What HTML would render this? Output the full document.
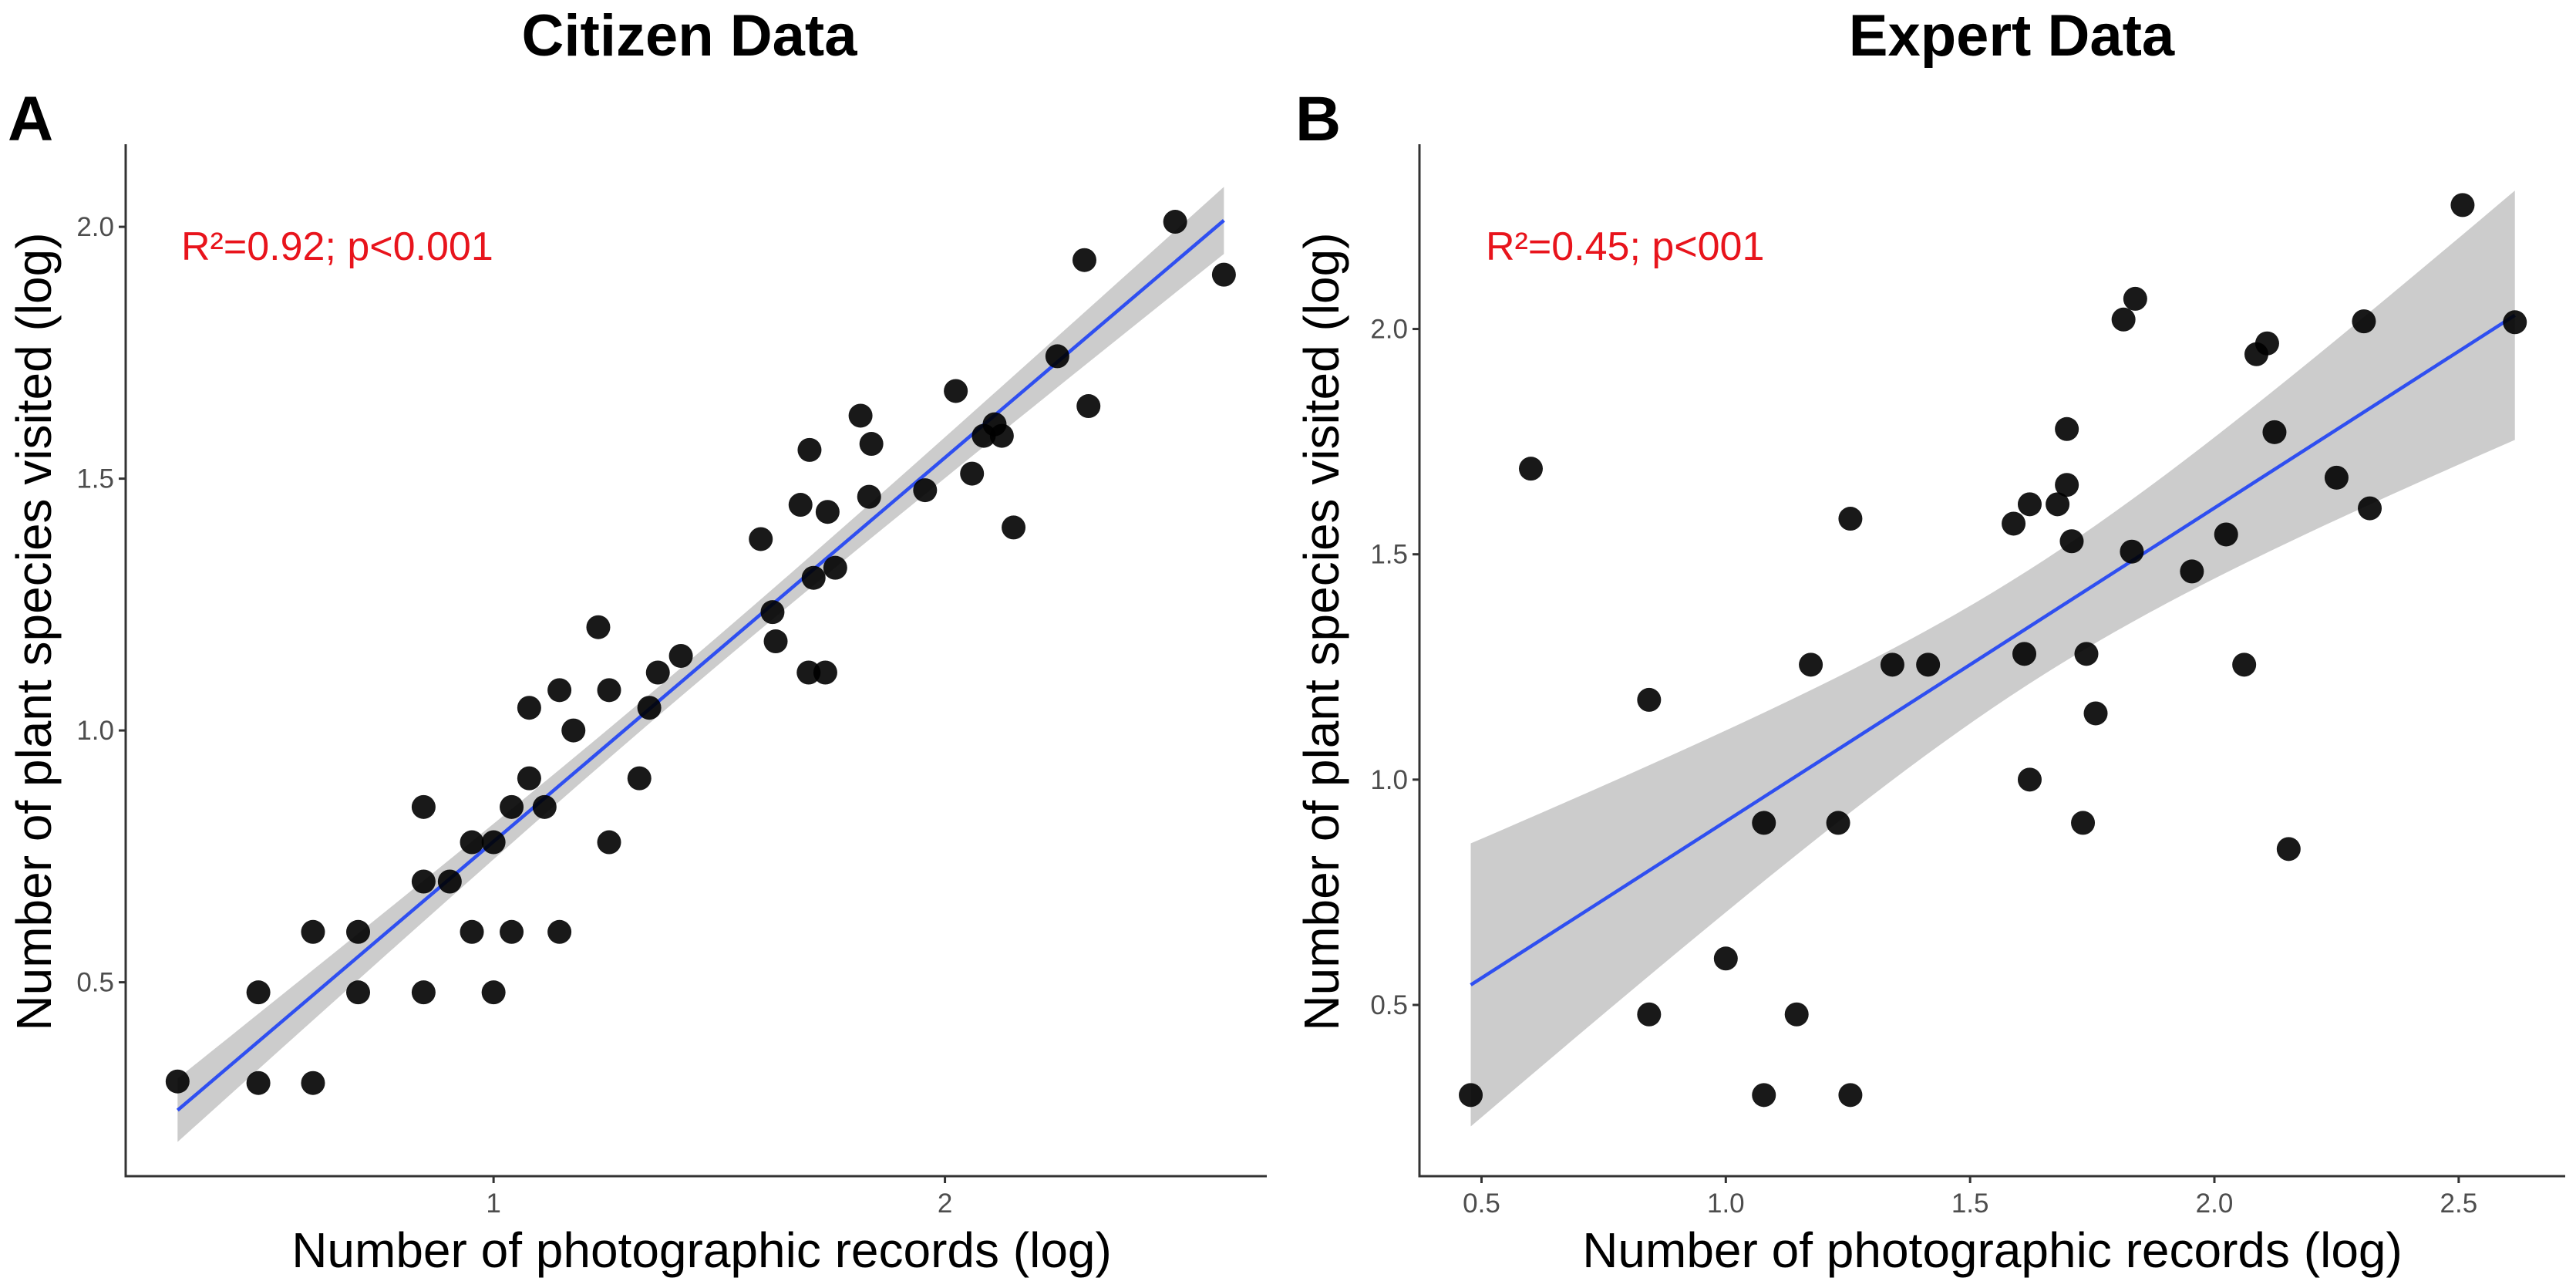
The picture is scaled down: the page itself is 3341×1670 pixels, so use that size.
<!DOCTYPE html>
<html><head><meta charset="utf-8"><style>
html,body{margin:0;padding:0;background:#fff;}
svg{display:block;font-family:"Liberation Sans",Arial,sans-serif;}
</style></head><body>
<svg id="chart" width="3341" height="1670" viewBox="0 0 3341 1670" xmlns="http://www.w3.org/2000/svg">
<text x="894" y="72" font-size="76" font-weight="bold" text-anchor="middle">Citizen Data</text>
<text x="2609" y="72" font-size="76" font-weight="bold" text-anchor="middle">Expert Data</text>
<text x="10" y="182" font-size="82" font-weight="bold">A</text>
<text x="1680" y="182" font-size="82" font-weight="bold">B</text>
</svg>
<script>
const citizenX = [0.30,0.479,0.479,0.60,0.60,0.70,0.70,0.845,0.845,0.845,0.903,0.952,0.952,1.0,1.0,1.04,1.04,1.079,1.079,1.113,1.146,1.146,1.177,1.232,1.256,1.256,1.323,1.345,1.364,1.415,1.592,1.618,1.625,1.68,1.70,1.709,1.698,1.735,1.74,1.757,1.813,1.837,1.832,1.956,2.024,2.06,2.086,2.11,2.126,2.152,2.249,2.309,2.318,2.51,2.618];
const citizenY = [0.303,0.48,0.30,0.60,0.30,0.60,0.48,0.848,0.70,0.48,0.70,0.778,0.60,0.778,0.48,0.848,0.60,0.905,1.045,0.848,1.08,0.60,1.0,1.205,1.08,0.778,0.905,1.045,1.115,1.148,1.38,1.235,1.177,1.448,1.557,1.303,1.115,1.115,1.434,1.323,1.625,1.569,1.464,1.477,1.674,1.51,1.585,1.608,1.585,1.403,1.743,1.934,1.644,2.01,1.905];
const expertX = [0.478,0.601,0.843,0.843,1.0,1.078,1.078,1.145,1.174,1.23,1.255,1.255,1.341,1.414,1.589,1.611,1.622,1.622,1.679,1.698,1.698,1.708,1.731,1.738,1.757,1.814,1.838,1.831,1.954,2.024,2.061,2.086,2.108,2.123,2.152,2.25,2.306,2.318,2.508,2.615];
const expertY = [0.30,1.69,1.177,0.479,0.603,0.904,0.30,0.479,1.255,0.904,1.579,0.30,1.255,1.255,1.568,1.279,1.611,1.0,1.611,1.654,1.778,1.529,0.904,1.279,1.147,2.021,2.067,1.506,1.462,1.544,1.255,1.944,1.968,1.771,0.846,1.67,2.017,1.602,2.275,2.015];
const citizenXTicks = [1,2];
const citizenXTickLabels = ["1","2"];
const citizenYTicks = [0.5,1.0,1.5,2.0];
const citizenYTickLabels = ["0.5","1.0","1.5","2.0"];
const expertXTicks = [0.5,1.0,1.5,2.0,2.5];
const expertXTickLabels = ["0.5","1.0","1.5","2.0","2.5"];
const expertYTicks = [0.5,1.0,1.5,2.0];
const expertYTickLabels = ["0.5","1.0","1.5","2.0"];
const citizenStat = "R²=0.92; p<0.001";
const expertStat = "R²=0.45; p<001";

const NS="http://www.w3.org/2000/svg";
const svg=document.getElementById('chart');
function mk(tag,attrs,parent){const e=document.createElementNS(NS,tag);for(const k in attrs)e.setAttribute(k,attrs[k]);(parent||svg).appendChild(e);return e;}

function panel(p){
  const g=mk('g',{});
  
  
  const sx=v=>p.x0+(v-p.dx[0])/(p.dx[1]-p.dx[0])*(p.x1-p.x0);
  const sy=v=>p.y1-(v-p.dy[0])/(p.dy[1]-p.dy[0])*(p.y1-p.y0);
  const n=p.xs.length;let mx=0,my=0;for(let i=0;i<n;i++){mx+=p.xs[i];my+=p.ys[i];}mx/=n;my/=n;
  let sxx=0,sxy=0;for(let i=0;i<n;i++){sxx+=(p.xs[i]-mx)**2;sxy+=(p.xs[i]-mx)*(p.ys[i]-my);}
  const b=sxy/sxx,a=my-b*mx;let sse=0;for(let i=0;i<n;i++){sse+=(p.ys[i]-a-b*p.xs[i])**2;}
  const s=Math.sqrt(sse/(n-2));
  const xmin=Math.min(...p.xs),xmax=Math.max(...p.xs);
  const up=[],lo=[];
  for(let k=0;k<=60;k++){const x=xmin+(xmax-xmin)*k/60;const f=a+b*x;const h=p.ci*s*Math.sqrt(1/n+(x-mx)**2/sxx);up.push(sx(x)+','+sy(f+h));lo.unshift(sx(x)+','+sy(f-h));}
  const band=mk('polygon',{points:up.concat(lo).join(' '),fill:'#cccccc'},g);
  
  
  const ln=mk('line',{x1:sx(xmin),y1:sy(a+b*xmin),x2:sx(xmax),y2:sy(a+b*xmax),stroke:'#2f4ff0','stroke-width':4.5},g);
  
  
  for(let i=0;i<n;i++){
    const c=mk('circle',{cx:sx(p.xs[i]),cy:sy(p.ys[i]),r:15.5,fill:'#000','fill-opacity':0.9},g);
    
    
  }
  const ax=mk('path',{d:`M${p.x0},${p.y0} V${p.y1} H${p.x1}`,fill:'none',stroke:'#333','stroke-width':3},g);
  
  
  p.xt.forEach((v,i)=>{
    mk('line',{x1:sx(v),y1:p.y1,x2:sx(v),y2:p.y1+9,stroke:'#333','stroke-width':3},g);
    const t=mk('text',{x:sx(v),y:p.y1+47,'font-size':35,fill:'#4d4d4d','text-anchor':'middle'},g);
    t.textContent=p.xtl[i];
    
    
  });
  p.yt.forEach((v,i)=>{
    mk('line',{x1:p.x0-9,y1:sy(v),x2:p.x0,y2:sy(v),stroke:'#333','stroke-width':3},g);
    const t=mk('text',{x:p.x0-15,y:sy(v)+12,'font-size':35,fill:'#4d4d4d','text-anchor':'end'},g);
    t.textContent=p.ytl[i];
    
    
  });
  const xt=mk('text',{x:(p.x0+p.x1)/2+p.xtOff,y:1643,'font-size':64,'text-anchor':'middle'},g);
  xt.textContent='Number of photographic records (log)';
  
  
  const yt=mk('text',{x:0,y:0,'font-size':64,'text-anchor':'middle',transform:`translate(${p.ytx},819) rotate(-90)`},g);
  yt.textContent='Number of plant species visited (log)';
  
  
  const st=mk('text',{x:p.statX,y:337,'font-size':52,fill:'#e8141c'},g);
  st.textContent=p.stat;
  
  
}
panel({name:'panel-citizen',x0:163,x1:1643,y0:187,y1:1525,dx:[0.185,2.713],dy:[0.115,2.164],xs:citizenX,ys:citizenY,xt:citizenXTicks,xtl:citizenXTickLabels,yt:citizenYTicks,ytl:citizenYTickLabels,stat:citizenStat,statX:235,ytx:66,xtOff:7,ci:1.5});
panel({name:'panel-expert',x0:1841,x1:3327,y0:187,y1:1525,dx:[0.373,2.718],dy:[0.12,2.41],xs:expertX,ys:expertY,xt:expertXTicks,xtl:expertXTickLabels,yt:expertYTicks,ytl:expertYTickLabels,stat:expertStat,statX:1927,ytx:1736,xtOff:0,ci:2.01});
</script>
</body></html>
